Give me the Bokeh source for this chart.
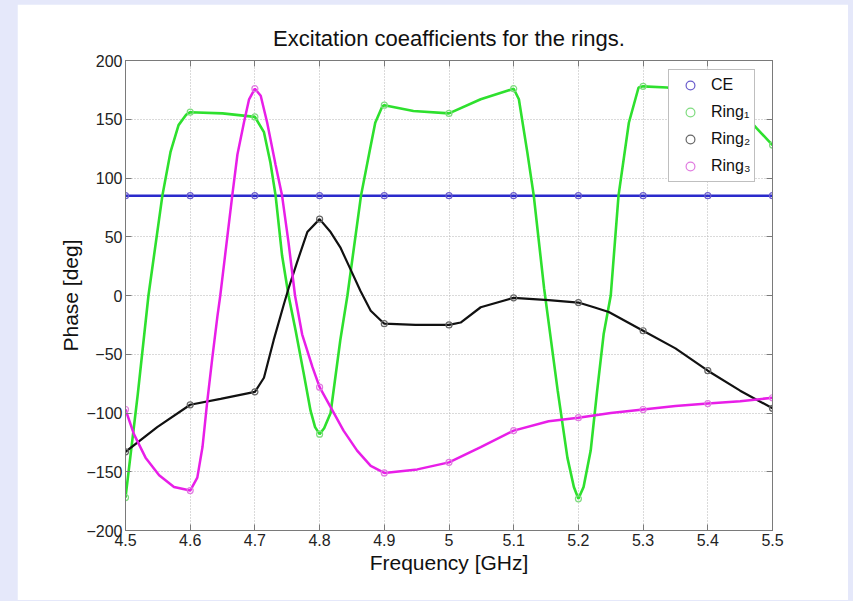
from bokeh.plotting import figure
from bokeh.models import FixedTicker, LinearAxis, Legend, LegendItem, Spacer, Range1d
from bokeh.layouts import row, column
from bokeh.embed import file_html
from bokeh.resources import INLINE

# ---- data ----
freq = [4.5, 4.6, 4.7, 4.8, 4.9, 5.0, 5.1, 5.2, 5.3, 5.4, 5.5]
ce = [85, 85, 85, 85, 85, 85, 85, 85, 85, 85, 85]
ring1 = [-172, 156, 152, -118, 162, 155, 176, -173, 178, 170, 128]
ring2 = [-133, -93, -82, 65, -24, -25, -2, -6, -30, -64, -96]
ring3 = [-97, -166, 176, -78, -151, -142, -115, -104, -97, -92, -87]

# smooth traces
ring1_f = [4.5, 4.519, 4.5355, 4.557, 4.5695, 4.582, 4.594, 4.6, 4.65, 4.7, 4.714, 4.724,
           4.732, 4.742, 4.752, 4.763, 4.775, 4.786, 4.793, 4.8, 4.807, 4.817, 4.832, 4.843,
           4.864, 4.877, 4.886, 4.897, 4.9, 4.945, 5.0, 5.049, 5.1, 5.108, 5.121, 5.131,
           5.147, 5.168, 5.183, 5.193, 5.2, 5.208, 5.219, 5.229, 5.239, 5.25, 5.262, 5.278,
           5.293, 5.3, 5.337, 5.4, 5.45, 5.476, 5.5]
ring1_v = [-172, -84, 0, 85, 122, 145, 154, 156, 155, 152, 139, 113,
           85, 34, 0, -30, -65, -98, -112, -118, -113, -100, -38, 0,
           85, 122, 147, 161, 162, 157, 155, 167, 176, 167, 122, 85,
           6, -81, -138, -163, -173, -163, -132, -81, -33, 0, 85, 147,
           177, 178, 177, 170, 158, 142, 128]

ring2_f = [4.5, 4.549, 4.6, 4.647, 4.7, 4.714, 4.729, 4.745, 4.752, 4.765, 4.781, 4.8,
           4.817, 4.832, 4.848, 4.863, 4.879, 4.9, 4.948, 5.0, 5.018, 5.049, 5.1, 5.154,
           5.2, 5.224, 5.247, 5.3, 5.35, 5.4, 5.45, 5.5]
ring2_v = [-133, -112, -93, -88, -82, -70, -38, -7, 6, 28, 54, 65,
           54, 41, 22, 4, -13, -24, -25, -25, -23, -10, -2, -4,
           -6, -10, -14, -30, -45, -64, -81, -96]

ring3_f = [4.5, 4.513, 4.531, 4.552, 4.575, 4.6, 4.611, 4.619, 4.626, 4.634, 4.642, 4.6465,
           4.665, 4.673, 4.683, 4.691, 4.7, 4.709, 4.719, 4.732, 4.742, 4.752, 4.762, 4.773,
           4.789, 4.8, 4.817, 4.837, 4.858, 4.879, 4.9, 4.951, 5.0, 5.049, 5.1, 5.154,
           5.2, 5.25, 5.3, 5.35, 5.4, 5.45, 5.5]
ring3_v = [-97, -118, -138, -153, -163, -166, -155, -129, -92, -54, -18, 0,
           85, 120, 147, 167, 176, 170, 147, 111, 85, 45, 0, -33,
           -61, -78, -95, -115, -132, -145, -151, -148, -142, -129, -115, -107,
           -104, -100, -97, -94, -92, -90, -87]

xticks = [4.5, 4.6, 4.7, 4.8, 4.9, 5.0, 5.1, 5.2, 5.3, 5.4, 5.5]
xtick_labels = ["4.5", "4.6", "4.7", "4.8", "4.9", "5", "5.1", "5.2", "5.3", "5.4", "5.5"]
yticks = [-200, -150, -100, -50, 0, 50, 100, 150, 200]

series_names = ["CE", "Ring\u2081", "Ring\u2082", "Ring\u2083"]
line_colors = ["#2a2acc", "#2ee02e", "#111111", "#e81ee8"]
marker_colors = ["#6a5ccc", "#7fdc7f", "#666666", "#e07be0"]

FONT = "Liberation Sans"
AXIS_GRAY = "#7a7a7a"

p = figure(width=831, height=596, x_range=Range1d(4.5, 5.5), y_range=Range1d(-200, 200),
           output_backend="svg", toolbar_location=None,
           min_border_left=108, min_border_right=76, min_border_top=56, min_border_bottom=70,
           title="Excitation coeafficients for the rings.")
p.background_fill_color = "white"
p.border_fill_color = "white"
p.outline_line_color = AXIS_GRAY
p.outline_line_width = 1

p.title.align = "center"
p.title.text_font = FONT
p.title.text_font_size = "22px"
p.title.text_font_style = "normal"
p.title.text_color = "#111111"
p.title.standoff = 19

for ax in (p.xaxis[0], p.yaxis[0]):
    ax.axis_line_color = AXIS_GRAY
    ax.major_tick_line_color = AXIS_GRAY
    ax.major_tick_in = 6
    ax.major_tick_out = 0
    ax.minor_tick_line_color = None
    ax.major_label_text_font = FONT
    ax.major_label_text_font_size = "16px"
    ax.major_label_text_color = "#222222"
    ax.axis_label_text_font = FONT
    ax.axis_label_text_font_size = "21px"
    ax.axis_label_text_font_style = "normal"
    ax.axis_label_text_color = "#111111"

p.xaxis[0].ticker = FixedTicker(ticks=xticks)
p.xaxis[0].major_label_overrides = {t: l for t, l in zip(xticks, xtick_labels)}
p.xaxis[0].axis_label = "Frequency [GHz]"
p.xaxis[0].major_label_standoff = 3
p.xaxis[0].axis_label_standoff = 2
p.yaxis[0].ticker = FixedTicker(ticks=yticks)
p.yaxis[0].axis_label = "Phase [deg]"
p.yaxis[0].major_label_standoff = 3
p.yaxis[0].axis_label_standoff = 1

# box ticks on top and right (no labels)
top_ax = LinearAxis(ticker=FixedTicker(ticks=xticks), major_label_text_font_size="0px",
                    major_label_text_color=None,
                    axis_line_color=AXIS_GRAY, major_tick_line_color=AXIS_GRAY,
                    major_tick_in=6, major_tick_out=0, minor_tick_line_color=None,
                    major_label_standoff=0)
right_ax = LinearAxis(ticker=FixedTicker(ticks=yticks), major_label_text_font_size="0px",
                      major_label_text_color=None,
                      axis_line_color=AXIS_GRAY, major_tick_line_color=AXIS_GRAY,
                      major_tick_in=6, major_tick_out=0, minor_tick_line_color=None,
                      major_label_standoff=0)
p.add_layout(top_ax, "above")
p.add_layout(right_ax, "right")

for g in (p.xgrid[0], p.ygrid[0]):
    g.grid_line_color = "#b5b5b5"
    g.grid_line_dash = "1 2"
    g.grid_line_width = 1
p.xgrid[0].ticker = FixedTicker(ticks=xticks)
p.ygrid[0].ticker = FixedTicker(ticks=yticks)

# lines
p.line(freq, ce, line_color=line_colors[0], line_width=2.5)
p.line(ring1_f, ring1_v, line_color=line_colors[1], line_width=2.6)
p.line(ring2_f, ring2_v, line_color=line_colors[2], line_width=2.2)
p.line(ring3_f, ring3_v, line_color=line_colors[3], line_width=2.5)

# markers
marker_renderers = []
for vals, mc in zip([ce, ring1, ring2, ring3], marker_colors):
    r = p.scatter(freq, vals, marker="circle", size=6, fill_color=None,
                  line_color=mc, line_width=1.2)
    marker_renderers.append(r)

legend = Legend(items=[LegendItem(label=n, renderers=[r]) for n, r in zip(series_names, marker_renderers)],
                location=(543, 348))
legend.label_text_font = FONT
legend.label_text_font_size = "16px"
legend.label_text_color = "#111111"
legend.border_line_color = "#808080"
legend.border_line_width = 1
legend.background_fill_color = "white"
legend.background_fill_alpha = 1.0
legend.padding = 4
legend.spacing = 5
legend.label_height = 22
legend.glyph_height = 22
legend.glyph_width = 34
legend.label_standoff = 4
p.add_layout(legend)

layout = column(Spacer(width=848, height=4), row(Spacer(width=17, height=596), p))
html = file_html(layout, INLINE)
html = html.replace("</head>", "<style>html, body { background-color: #e5e8fa !important; }</style></head>", 1)
open("out.html", "w").write(html)
